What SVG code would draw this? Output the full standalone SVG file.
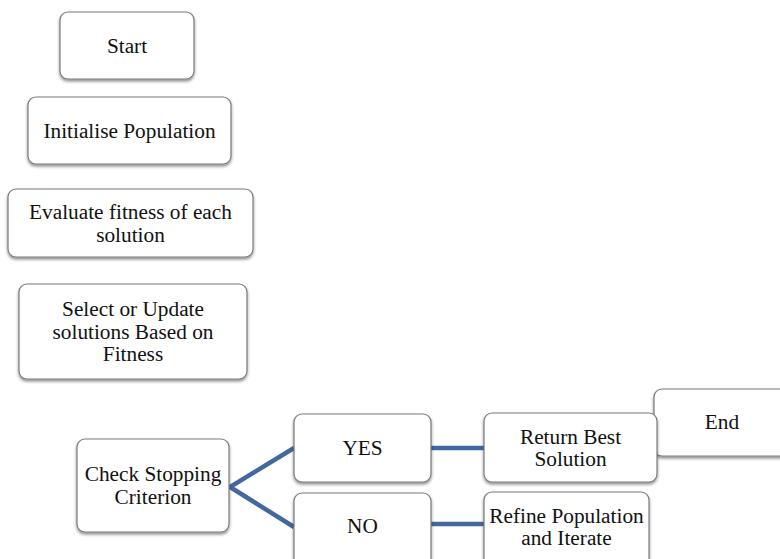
<svg xmlns="http://www.w3.org/2000/svg" width="780" height="559" viewBox="0 0 780 559">
<defs>
<filter id="sh" x="-10%" y="-10%" width="120%" height="130%">
<feDropShadow dx="0" dy="2" stdDeviation="1.6" flood-color="#000" flood-opacity="0.45"/>
</filter>
</defs>
<style>
.box{fill:#fff;stroke:#7a7a7a;stroke-width:1.2;filter:url(#sh)}
.t{font-family:"Liberation Serif","Times New Roman",serif;font-size:21.3px;fill:#111;text-anchor:middle}
.c{stroke:#44689e;stroke-width:4.5;fill:none}
</style>
<rect width="780" height="559" fill="#fff"/>
<g id="connectors">
<polyline class="c" points="294,448 230,487 294,527"/>
<line class="c" x1="431" y1="448" x2="484" y2="448"/>
<line class="c" x1="431" y1="524" x2="484" y2="524"/>
</g>
<g id="start"><rect class="box" x="60" y="12" width="134" height="67" rx="8"/><text class="t" x="127" y="53">Start</text></g>
<g id="init"><rect class="box" x="28" y="97" width="203" height="67" rx="8"/><text class="t" x="129.5" y="138">Initialise Population</text></g>
<g id="evaluate"><rect class="box" x="8" y="189" width="245" height="68" rx="8"/><text class="t" x="130.5" y="219">Evaluate fitness of each</text><text class="t" x="130.5" y="242">solution</text></g>
<g id="select"><rect class="box" x="19" y="284" width="228" height="95" rx="8"/><text class="t" x="133" y="316">Select or Update</text><text class="t" x="133" y="339">solutions Based on</text><text class="t" x="133" y="361">Fitness</text></g>
<g id="check"><rect class="box" x="77" y="439" width="152" height="93" rx="8"/><text class="t" x="153" y="481">Check Stopping</text><text class="t" x="153" y="504">Criterion</text></g>
<g id="yes"><rect class="box" x="294" y="414" width="137" height="68" rx="8"/><text class="t" x="362.5" y="455">YES</text></g>
<g id="no"><rect class="box" x="294" y="493" width="137" height="80" rx="8"/><text class="t" x="362.5" y="533">NO</text></g>
<g id="end"><rect class="box" x="654" y="389" width="140" height="67" rx="8"/><text class="t" x="722" y="429">End</text></g>
<g id="return"><rect class="box" x="484" y="413" width="173" height="69" rx="8"/><text class="t" x="570.5" y="444">Return Best</text><text class="t" x="570.5" y="466">Solution</text></g>
<g id="refine"><rect class="box" x="484" y="492" width="165" height="80" rx="8"/><text class="t" x="566.5" y="523">Refine Population</text><text class="t" x="566.5" y="545">and Iterate</text></g>
</svg>
